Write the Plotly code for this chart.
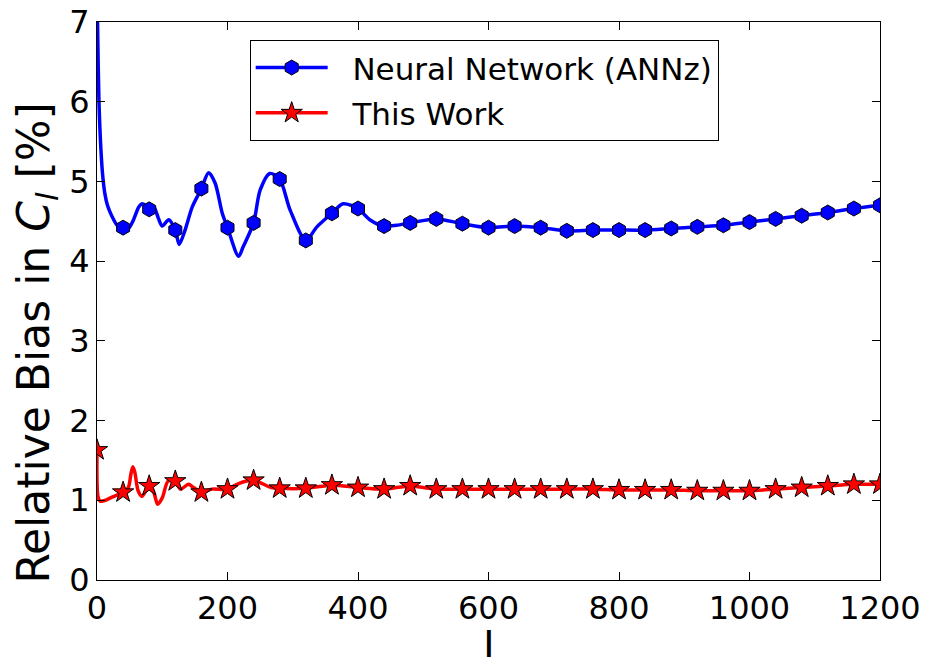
import plotly.graph_objects as go

# Multipole values at which markers are placed (every 40)
marker_l = [0, 40, 80, 120, 160, 200, 240, 280, 320, 360, 400, 440, 480, 520, 560,
            600, 640, 680, 720, 760, 800, 840, 880, 920, 960, 1000, 1040, 1080,
            1120, 1160, 1200]

# Relative bias (%) of the neural-network photo-z estimate at the marker points
annz_marker = [7.3, 4.42, 4.65, 4.39, 4.91, 4.42, 4.48, 5.03, 4.26, 4.60, 4.66, 4.44,
               4.48, 4.53, 4.47, 4.42, 4.44, 4.42, 4.38, 4.39, 4.39, 4.39, 4.41,
               4.43, 4.45, 4.49, 4.53, 4.57, 4.61, 4.66, 4.70]

# Relative bias (%) of this work at the marker points
this_marker = [1.63, 1.10, 1.18, 1.24, 1.10, 1.14, 1.25, 1.15, 1.15, 1.19, 1.16, 1.14,
               1.18, 1.14, 1.14, 1.14, 1.14, 1.14, 1.14, 1.14, 1.13, 1.13, 1.13,
               1.12, 1.12, 1.12, 1.14, 1.16, 1.18, 1.20, 1.20]

# Finely sampled curves
annz_curve_l = [0, 1, 3, 6, 9, 12, 16, 23, 31, 40, 48, 56, 64, 69, 80, 87, 94, 100,
                110, 120, 126, 135, 146, 160, 171, 181, 192, 200, 217, 224, 240, 250,
                265, 280, 296, 320, 337, 360, 377, 400, 418, 440, 459, 480, 520, 560,
                600, 640, 680, 720, 760, 800, 840, 880, 920, 960, 1000, 1040, 1080,
                1120, 1160, 1200]
annz_curve = [7.4, 6.9, 6.0, 5.4, 5.05, 4.85, 4.70, 4.56, 4.45, 4.42, 4.41, 4.52,
              4.68, 4.72, 4.68, 4.68, 4.54, 4.44, 4.52, 4.39, 4.21, 4.39, 4.68, 4.91,
              5.11, 4.98, 4.60, 4.42, 4.06, 4.18, 4.48, 4.89, 5.10, 5.03, 4.64, 4.26,
              4.43, 4.60, 4.72, 4.66, 4.52, 4.44, 4.45, 4.48, 4.53, 4.47, 4.42, 4.44,
              4.42, 4.38, 4.39, 4.39, 4.39, 4.41, 4.43, 4.45, 4.49, 4.53, 4.57, 4.61,
              4.66, 4.70]

this_curve_l = [0, 1.5, 5, 13, 23, 40, 48, 52, 55, 58, 63, 69, 80, 87, 93, 100, 109,
                120, 128, 140, 148, 160, 176, 200, 217, 240, 267, 280, 320, 360, 400,
                440, 480, 520, 560, 600, 640, 680, 720, 760, 800, 840, 880, 920, 960,
                1000, 1040, 1080, 1120, 1160, 1200]
this_curve = [1.63, 1.05, 0.99, 1.00, 1.04, 1.10, 1.16, 1.33, 1.42, 1.35, 1.12, 1.05,
              1.18, 1.10, 0.95, 1.03, 1.24, 1.24, 1.14, 1.20, 1.16, 1.10, 1.14, 1.14,
              1.21, 1.25, 1.16, 1.15, 1.15, 1.19, 1.16, 1.14, 1.18, 1.14, 1.14, 1.14,
              1.14, 1.14, 1.14, 1.14, 1.13, 1.13, 1.13, 1.12, 1.12, 1.12, 1.14, 1.16,
              1.18, 1.20, 1.20]

x_ticks = [0, 200, 400, 600, 800, 1000, 1200]
y_ticks = [0, 1, 2, 3, 4, 5, 6, 7]

BLUE = "#0000ff"
RED = "#ff0000"
FONT = "DejaVu Sans"

annz_marker_style = dict(symbol="hexagon", size=15, color=BLUE,
                         line=dict(color="black", width=1))
this_marker_style = dict(symbol="star", size=16, color=RED,
                         line=dict(color="black", width=1))

fig = go.Figure()

# Curves
fig.add_trace(go.Scatter(x=annz_curve_l, y=annz_curve, mode="lines",
                         line=dict(color=BLUE, width=3.5, shape="spline", smoothing=0.8),
                         showlegend=False, hoverinfo="skip"))
fig.add_trace(go.Scatter(x=this_curve_l, y=this_curve, mode="lines",
                         line=dict(color=RED, width=3.5, shape="spline", smoothing=0.8),
                         showlegend=False, hoverinfo="skip"))

# Markers
fig.add_trace(go.Scatter(x=marker_l, y=annz_marker, mode="markers",
                         marker=annz_marker_style, showlegend=False))
fig.add_trace(go.Scatter(x=marker_l, y=this_marker, mode="markers",
                         marker=this_marker_style, showlegend=False))

# Legend entries (line + marker)
fig.add_trace(go.Scatter(x=[None], y=[None], mode="lines+markers",
                         name="&nbsp;&nbsp;Neural Network (ANNz)", legendgroup="annz",
                         line=dict(color=BLUE, width=3.5), marker=annz_marker_style))
fig.add_trace(go.Scatter(x=[None], y=[None], mode="lines+markers",
                         name="&nbsp;&nbsp;This Work", legendgroup="this",
                         line=dict(color=RED, width=3.5), marker=this_marker_style))

axis_common = dict(showline=True, linecolor="black", linewidth=1, mirror="ticks",
                   ticks="inside", ticklen=8, tickwidth=1, tickcolor="black",
                   showgrid=False, zeroline=False, automargin=False,
                   tickfont=dict(family=FONT, size=32, color="black"))

fig.update_xaxes(range=[0, 1200], tickvals=x_ticks, ticktext=[str(v) for v in x_ticks],
                 **axis_common)
fig.update_yaxes(range=[0, 7], tickvals=y_ticks, ticktext=[str(v) for v in y_ticks],
                 **axis_common)

fig.add_annotation(text="Relative Bias in <i>C</i><sub><i>l</i></sub> [%]",
                   xref="paper", yref="paper", x=-0.077, y=0.425,
                   xanchor="center", yanchor="middle", textangle=-90, showarrow=False,
                   font=dict(family=FONT, size=44, color="black"))
fig.add_annotation(text="l", xref="paper", yref="paper", x=0.5, y=-0.075,
                   xanchor="center", yanchor="top", showarrow=False,
                   font=dict(family=FONT, size=42, color="black"))

fig.update_layout(
    width=928, height=657,
    margin=dict(l=97, r=48, t=22, b=77),
    plot_bgcolor="white", paper_bgcolor="white",
    legend=dict(x=0.195, y=0.968, xanchor="left", yanchor="top",
                bordercolor="black", borderwidth=1, bgcolor="white",
                itemwidth=72, tracegroupgap=2,
                font=dict(family=FONT, size=31, color="black")),
)

fig.write_html("out.html")
